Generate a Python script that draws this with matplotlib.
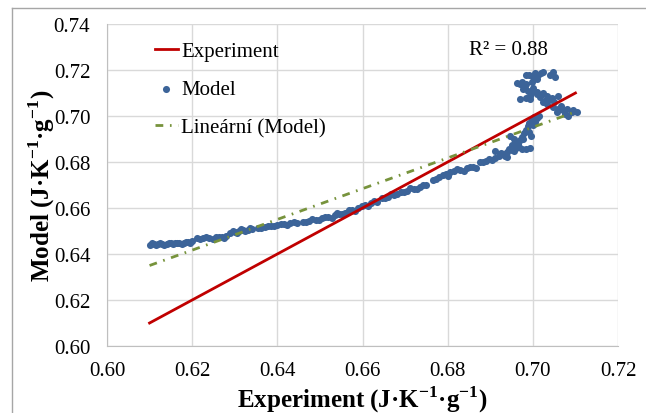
import numpy as np
import matplotlib
matplotlib.use("Agg")
import matplotlib.pyplot as plt
from matplotlib.lines import Line2D

plt.rcParams['font.family'] = ['Liberation Serif', 'DejaVu Serif']
plt.rcParams['mathtext.fontset'] = 'custom'
plt.rcParams['mathtext.rm'] = 'Liberation Serif'
plt.rcParams['mathtext.bf'] = 'Liberation Serif:bold'

# Model values (x = experiment, y = model)
model_x = [0.6100, 0.6110, 0.6120, 0.6130, 0.6140, 0.6150, 0.6160, 0.6170, 0.6180, 0.6190, 0.6200,
           0.6105, 0.6115, 0.6125, 0.6135, 0.6145, 0.6155, 0.6165, 0.6175, 0.6185, 0.6195,
           0.6212, 0.6225, 0.6240, 0.6255, 0.6270, 0.6280,
           0.6218, 0.6232, 0.6248, 0.6262, 0.6275,
           0.6290, 0.6300, 0.6310, 0.6320, 0.6330, 0.6340,
           0.6295, 0.6305, 0.6315, 0.6325, 0.6335,
           0.6355, 0.6370, 0.6385, 0.6400, 0.6415, 0.6430, 0.6446,
           0.6362, 0.6378, 0.6392, 0.6408, 0.6422, 0.6438,
           0.6460, 0.6475, 0.6490, 0.6505, 0.6520, 0.6535, 0.6545,
           0.6468, 0.6482, 0.6498, 0.6512, 0.6528, 0.6540,
           0.6560, 0.6575, 0.6590, 0.6605, 0.6620, 0.6635,
           0.6552, 0.6568, 0.6582, 0.6598, 0.6612, 0.6628,
           0.6645, 0.6660, 0.6675, 0.6652, 0.6668, 0.6682,
           0.6690, 0.6705, 0.6720, 0.6735, 0.6750,
           0.6698, 0.6712, 0.6728, 0.6742,
           0.6765, 0.6780, 0.6795, 0.6805, 0.6772, 0.6788, 0.6800,
           0.6815, 0.6830, 0.6845, 0.6860, 0.6822, 0.6838, 0.6852, 0.6866,
           0.6875, 0.6890, 0.6905, 0.6882, 0.6898, 0.6912,
           0.6920, 0.6930, 0.6940, 0.6950, 0.6960, 0.6968,
           0.6925, 0.6935, 0.6945, 0.6955, 0.6965,
           0.6975, 0.6985, 0.6993,
           0.6965, 0.6970, 0.6975, 0.6980, 0.6983, 0.6988, 0.6992, 0.6998, 0.7003,
           0.6990, 0.7000, 0.7005, 0.7010, 0.7015, 0.6995, 0.6978, 0.6950,
           0.6946, 0.6955, 0.6963, 0.6910, 0.6925, 0.6940,
           0.6984, 0.7005, 0.7013, 0.7025, 0.7048, 0.7052, 0.7009, 0.6997, 0.6962, 0.6970,
           0.6982, 0.6989, 0.6993, 0.7009, 0.7017, 0.7033, 0.7040, 0.7060, 0.6970, 0.6993,
           0.7033, 0.7048, 0.7060, 0.7080, 0.7091, 0.7103, 0.7083, 0.7056, 0.7025, 0.6977,
           0.6990, 0.7000, 0.7020, 0.7040, 0.6975, 0.6985, 0.7000, 0.7010, 0.7025, 0.7045,
           0.7030, 0.7050, 0.7065, 0.7070, 0.7095, 0.7075, 0.6995, 0.6985]
model_y = [0.6441, 0.6443, 0.6442, 0.6444, 0.6445, 0.6447, 0.6446, 0.6448, 0.6450, 0.6452, 0.6455,
           0.6446, 0.6440, 0.6447, 0.6441, 0.6449, 0.6444, 0.6450, 0.6445, 0.6454, 0.6449,
           0.6470, 0.6468, 0.6470, 0.6472, 0.6474, 0.6478,
           0.6465, 0.6474, 0.6466, 0.6476, 0.6470,
           0.6490, 0.6496, 0.6500, 0.6504, 0.6506, 0.6509,
           0.6500, 0.6492, 0.6507, 0.6499, 0.6512,
           0.6515, 0.6518, 0.6522, 0.6526, 0.6529, 0.6533, 0.6537,
           0.6512, 0.6522, 0.6520, 0.6530, 0.6527, 0.6538,
           0.6540, 0.6545, 0.6550, 0.6556, 0.6562, 0.6568, 0.6573,
           0.6538, 0.6551, 0.6548, 0.6563, 0.6557, 0.6578,
           0.6580, 0.6590, 0.6600, 0.6612, 0.6620, 0.6628,
           0.6575, 0.6592, 0.6588, 0.6610, 0.6608, 0.6630,
           0.6645, 0.6650, 0.6656, 0.6642, 0.6660, 0.6660,
           0.6668, 0.6676, 0.6684, 0.6692, 0.6700,
           0.6670, 0.6688, 0.6682, 0.6700,
           0.6722, 0.6735, 0.6748, 0.6757, 0.6728, 0.6745, 0.6740,
           0.6760, 0.6765, 0.6772, 0.6778, 0.6768, 0.6762, 0.6780, 0.6775,
           0.6800, 0.6805, 0.6810, 0.6798, 0.6812, 0.6818,
           0.6826, 0.6835, 0.6845, 0.6852, 0.6860, 0.6866,
           0.6838, 0.6828, 0.6855, 0.6848, 0.6870,
           0.6858, 0.6857, 0.6860,
           0.6880, 0.6895, 0.6910, 0.6925, 0.6940, 0.6955, 0.6970, 0.6985, 0.6995,
           0.6930, 0.6960, 0.6975, 0.6990, 0.7000, 0.6915, 0.6900, 0.6875,
           0.6913, 0.6900, 0.6887, 0.6848, 0.6835, 0.6820,
           0.7178, 0.7187, 0.7178, 0.7190, 0.7193, 0.7168, 0.7161, 0.7147, 0.7143, 0.7139,
           0.7132, 0.7110, 0.7088, 0.7103, 0.7081, 0.7088, 0.7074, 0.7088, 0.7074, 0.7074,
           0.7052, 0.7038, 0.7030, 0.7030, 0.7016, 0.7016, 0.7001, 0.7016, 0.7060, 0.7117,
           0.7180, 0.7170, 0.7185, 0.7180, 0.7150, 0.7140, 0.7120, 0.7095, 0.7100, 0.7080,
           0.7070, 0.7060, 0.7045, 0.7025, 0.7025, 0.7010, 0.7100, 0.7080]

exp_x = [0.61, 0.71]
# end points of the Excel linear trendline
trend_x = [0.6100, 0.7103]
trend_y = [0.6350, 0.7020]
r2_text = 'R² = 0.88'

fig = plt.figure(figsize=(6.46, 4.14), dpi=100)
ax = fig.add_axes([0.1656, 0.1618, 0.7911, 0.7778])

ax.plot(exp_x, exp_x, color='#c00000', lw=2, label='Experiment', zorder=3)
ax.scatter(model_x, model_y, s=26, color='#3c6499', label='Model', zorder=2, linewidths=0)
ax.plot(trend_x, trend_y, color='#77933c', lw=2, dashes=(2.8, 2.4, 0.6, 2.4),
        label='Lineární (Model)', zorder=4)

ax.set_xlim(0.60, 0.72)
ax.set_ylim(0.60, 0.74)
ax.set_xticks(np.arange(0.60, 0.7201, 0.02))
ax.set_yticks(np.arange(0.60, 0.7401, 0.02))
ax.xaxis.set_major_formatter(matplotlib.ticker.FormatStrFormatter('%.2f'))
ax.yaxis.set_major_formatter(matplotlib.ticker.FormatStrFormatter('%.2f'))
ax.tick_params(length=0, labelsize=15)
ax.tick_params(axis='y', pad=12)
ax.tick_params(axis='x', pad=11)
ax.grid(True, color='#d9d9d9', lw=1)
ax.set_axisbelow(True)
for s in ['top', 'right']:
    ax.spines[s].set_visible(False)
for s in ['left', 'bottom']:
    ax.spines[s].set_color('#bfbfbf')

ax.set_xlabel('Experiment (J·K$^{\\mathbf{-1}}$·g$^{\\mathbf{-1}}$)', fontsize=18, fontweight='bold')
ax.set_ylabel('Model (J·K$^{\\mathbf{-1}}$·g$^{\\mathbf{-1}}$)', fontsize=18, fontweight='bold')
ax.xaxis.set_label_coords(0.5, -0.165)
ax.xaxis.label.set_va('center')
ax.yaxis.set_label_coords(-0.127, 0.5)
ax.yaxis.label.set_va('center')

ax.text(0.685, 0.729, r2_text, fontsize=15, va='center')

ax.legend(loc='upper left', bbox_to_anchor=(0.094, 0.945), frameon=False, fontsize=15,
          borderpad=0, borderaxespad=0, handlelength=1.1, handletextpad=0.15,
          labelspacing=0.88, scatterpoints=1)

# outer chart border
fig.add_artist(Line2D([12 / 646, 12 / 646], [0, 1 - 9 / 414], color='#a6a6a6', lw=1))
fig.add_artist(Line2D([12 / 646, 1], [1 - 9 / 414, 1 - 9 / 414], color='#a6a6a6', lw=1))

fig.savefig('out.png', dpi=100)
